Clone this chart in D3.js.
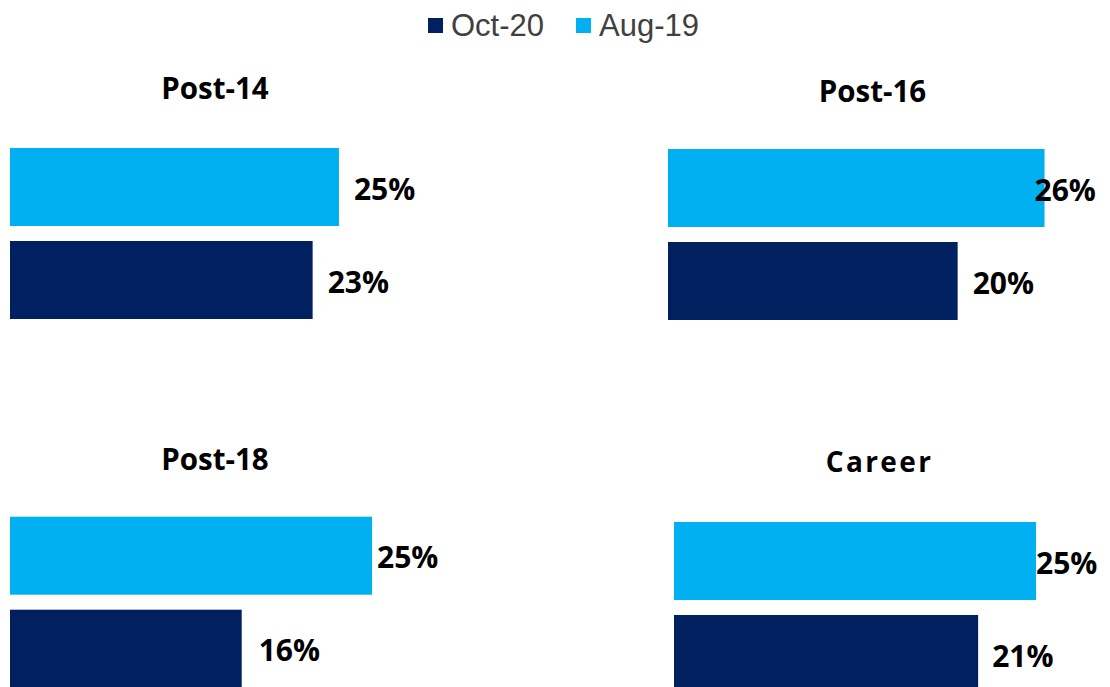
<!DOCTYPE html>
<html>
<head>
<meta charset="utf-8">
<script src="https://cdn.jsdelivr.net/npm/d3@7"></script>
<style>
  html, body { margin: 0; padding: 0; background: #fff; }
  svg { display: block; }
</style>
</head>
<body>
<svg id="chart" width="1110" height="687"></svg>
<script>
// ---- data ----
const panels = ["Post-14", "Post-16", "Post-18", "Career"];
const series = ["Aug-19", "Oct-20"];
const aug19 = [25, 26, 25, 25];
const oct20 = [23, 20, 16, 21];
const legendOrder = ["Oct-20", "Aug-19"];

// ---- layout / style ----
const colors = { "Aug-19": "#00B0F0", "Oct-20": "#002060" };
const layout = [
  { x0: 10,  top: 148,   domainMax: 30.4,  titleX: 215,   titleY: 99,    titleSize: 29.5, titleLS: 0,   dx: [15, 15] },
  { x0: 668, top: 149,   domainMax: 27.62, titleX: 872.5, titleY: 101.5, titleSize: 29.5, titleLS: 0,   dx: [-10, 15] },
  { x0: 10,  top: 516.7, domainMax: 27.62, titleX: 215,   titleY: 469.5, titleSize: 29.5, titleLS: 0,   dx: [5, 17] },
  { x0: 674, top: 522,   domainMax: 27.62, titleX: 879.5, titleY: 471.5, titleSize: 28,   titleLS: 2.4, dx: [0, 14] }
];
const barRange = 400;

const svg = d3.select("#chart");
const boldFont = "'Open Sans', 'DejaVu Sans', sans-serif";

panels.forEach((name, i) => {
  const L = layout[i];
  const vals = { "Aug-19": aug19[i], "Oct-20": oct20[i] };
  const x = d3.scaleLinear().domain([0, L.domainMax]).range([L.x0, L.x0 + barRange]);
  const y = d3.scaleBand().domain(series).range([L.top, L.top + 171]).paddingInner(15 / 93).paddingOuter(0);
  const g = svg.append("g").attr("class", "panel");

  g.append("text")
    .attr("x", L.titleX).attr("y", L.titleY)
    .attr("text-anchor", "middle")
    .style("font-family", boldFont)
    .style("font-weight", 700)
    .style("font-size", L.titleSize + "px")
    .style("letter-spacing", L.titleLS + "px")
    .attr("fill", "#000")
    .text(name);

  g.selectAll("rect").data(series).join("rect")
    .attr("x", x(0))
    .attr("y", s => y(s))
    .attr("width", s => x(vals[s]) - x(0))
    .attr("height", y.bandwidth())
    .attr("fill", s => colors[s]);

  g.selectAll("text.lbl").data(series).join("text")
    .attr("class", "lbl")
    .attr("x", (s, j) => x(vals[s]) + L.dx[j])
    .attr("y", s => y(s) + y.bandwidth() / 2 + 12.5)
    .style("font-family", boldFont)
    .style("font-weight", 700)
    .style("font-size", "30px")
    .attr("fill", "#000")
    .text(s => d3.format(".0f")(vals[s]) + "%");
});

// ---- legend ----
const legend = svg.append("g").attr("class", "legend");
const legX = [428, 576];
legendOrder.forEach((s, i) => {
  legend.append("rect")
    .attr("x", legX[i]).attr("y", 18)
    .attr("width", 15).attr("height", 15)
    .attr("fill", colors[s]);
  legend.append("text")
    .attr("x", legX[i] + 23).attr("y", 36)
    .style("font-family", "'Liberation Sans', Arial, sans-serif")
    .style("font-size", "31px")
    .attr("fill", "#404040")
    .text(s);
});
</script>
</body>
</html>
